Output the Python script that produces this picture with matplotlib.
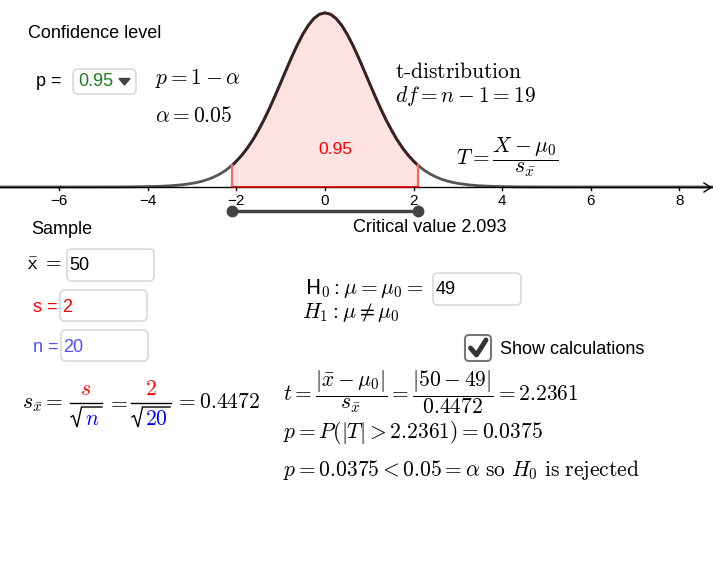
import numpy as np
import matplotlib.pyplot as plt
from matplotlib.patches import FancyBboxPatch, Polygon

plt.rcParams['font.family'] = ['Liberation Sans', 'DejaVu Sans']
plt.rcParams['mathtext.fontset'] = 'cm'

# t-distribution (df = 19)
t_x = [-7.4, -6.0, -5.0, -4.5, -4.0, -3.75, -3.5, -3.25, -3.0, -2.875, -2.75, -2.625, -2.5,
       -2.375, -2.25, -2.093, -2.0, -1.875, -1.75, -1.625, -1.5, -1.375, -1.25, -1.125,
       -1.0, -0.875, -0.75, -0.625, -0.5, -0.375, -0.25, -0.125, 0.0,
       0.125, 0.25, 0.375, 0.5, 0.625, 0.75, 0.875, 1.0, 1.125, 1.25, 1.375, 1.5,
       1.625, 1.75, 1.875, 2.0, 2.093, 2.25, 2.375, 2.5, 2.625, 2.75, 2.875, 3.0,
       3.25, 3.5, 3.75, 4.0, 4.5, 5.0, 6.0, 8.8]
t_y = [0.0, 0.00001, 0.00009, 0.00028, 0.00088, 0.00155, 0.0027, 0.00475, 0.0082, 0.0106, 0.0138, 0.0178, 0.0230,
       0.0293, 0.0371, 0.0495, 0.0585, 0.0722, 0.0884, 0.1072, 0.1287, 0.1526, 0.1788, 0.2067,
       0.2359, 0.2654, 0.2943, 0.3215, 0.3457, 0.3660, 0.3813, 0.3908, 0.3940,
       0.3908, 0.3813, 0.3660, 0.3457, 0.3215, 0.2943, 0.2654, 0.2359, 0.2067, 0.1788, 0.1526, 0.1287,
       0.1072, 0.0884, 0.0722, 0.0585, 0.0495, 0.0371, 0.0293, 0.0230, 0.0178, 0.0138, 0.0106, 0.0082,
       0.00475, 0.0027, 0.00155, 0.00088, 0.00028, 0.00009, 0.00001, 0.0]
ticks = [-6, -4, -2, 0, 2, 4, 6, 8]
crit = 2.093
conf = 0.95

W, H = 713, 581
x_org, y_org = 325, 187     # pixel of (0, 0)
sx, sy = 44.3, 442.0        # pixels per unit

fig = plt.figure(figsize=(W / 100, H / 100), dpi=100)
ax = fig.add_axes([0, 0, 1, 1])
ax.set_xlim(-x_org / sx, (W - x_org) / sx)
ax.set_ylim(-(H - y_org) / sy, y_org / sy)
ax.axis('off')

tx = np.array(t_x)
ty = np.array(t_y)
mid = np.abs(tx) <= crit + 1e-9

ax.fill_between(tx[mid], 0, ty[mid], color='#ffe3e3', lw=0)
ax.plot(tx, ty, color='#555555', lw=2, solid_capstyle='round')
ax.plot(tx[mid], ty[mid], color='#3a2222', lw=2)
for c in (-crit, crit):
    ax.plot([c, c], [0, ty[tx == c][0]], color='#ff6666', lw=1.6)
ax.axhline(0, color='black', lw=1)
ax.plot([-crit, crit], [0, 0], color='#dd0000', lw=1.2)
for t in ticks:
    ax.plot([t, t], [0, -3 / sy], color='black', lw=1)
    ax.text(t, -14 / sy, str(t).replace('-', '\u2212'), ha='center', va='center', fontsize=11)

# critical value segment
ax.plot([-crit, crit], [-24 / sy, -24 / sy], color='#444444', lw=2.5, marker='o', ms=7.5)
ax.text(0.23, 0.084, f'{conf:.2f}', color='#ff0000', fontsize=12.5, ha='center', va='center')

# overlay in pixel coordinates
ov = fig.add_axes([0, 0, 1, 1], facecolor='none')
ov.set_xlim(0, W)
ov.set_ylim(H, 0)
ov.axis('off')
ov.plot([704, 711, 704], [183, 187.5, 192], color='black', lw=1)

def box(x, y, w, h, ec='#d9d9d9'):
    ov.add_patch(FancyBboxPatch((x, y), w, h, boxstyle='round,pad=0,rounding_size=5',
                                fc='white', ec=ec, lw=1.2))

def radical(x0, x1, body, color):
    # hand drawn square root sign, body text in its own colour
    ov.plot([x0, x0 + 2.2, x0 + 6, x0 + 10.5, x1], [417, 415.5, 427, 407, 407],
            color='black', lw=1, solid_joinstyle='miter')
    ov.text((x0 + 10.5 + x1) / 2 + 0.5, 425, r'$%s$' % body, fontsize=mfs,
            ha='center', va='baseline', color=color)

fs = 13
mfs = 15.5
ov.text(28, 33, 'Confidence level', fontsize=fs, va='center')
ov.text(36, 81, 'p =', fontsize=fs, va='center')
box(73, 69, 63, 25)
ov.text(78, 82, '0.95', fontsize=fs, va='center', color='#1f7a1f')
ov.add_patch(Polygon([(119, 78.5), (130, 78.5), (124.5, 85)], color='#444444'))

ov.text(155, 78, r'$p = 1 - \alpha$', fontsize=mfs, va='center')
ov.text(155, 116, r'$\alpha = 0.05$', fontsize=mfs, va='center')
ov.text(395, 72, r'$\text{t-distribution}$', fontsize=mfs, va='center')
ov.text(395, 96, r'$df = n - 1 = 19$', fontsize=mfs, va='center')
ov.text(456, 157, r'$T = \dfrac{X - \mu_0}{s_{\bar{x}}}$', fontsize=mfs, va='center')

ov.text(353, 228, f'Critical value {crit}', fontsize=fs, va='center')
ov.text(31, 229, 'Sample', fontsize=fs, va='center')

ov.text(27, 265, r'$\mathsf{\bar{x}}\ \mathsf{=}$', fontsize=fs + 1.5, va='center')
box(67, 249, 87, 32)
ov.text(69, 266, '50', fontsize=fs, va='center')
ov.text(33, 307, 's =', fontsize=fs, va='center', color='#ff0000')
box(60, 290, 87, 31)
ov.text(62, 307, '2', fontsize=fs, va='center', color='#ff0000')
ov.text(33, 347, 'n =', fontsize=fs, va='center', color='#5050ff')
box(61, 330, 87, 31)
ov.text(63, 347, '20', fontsize=fs, va='center', color='#5050ff')

# s_xbar formula with coloured parts
ov.text(22, 403, r'$s_{\bar{x}} =$', fontsize=mfs, va='center')
ov.plot([70, 102], [403, 403], color='black', lw=1)
ov.text(86, 395, r'$s$', fontsize=mfs, ha='center', va='baseline', color='#ff0000')
radical(71, 102, 'n', '#0000ff')
ov.text(107, 403, r'$=$', fontsize=mfs, va='center')
ov.plot([131, 171], [403, 403], color='black', lw=1)
ov.text(151, 395, r'$2$', fontsize=mfs, ha='center', va='baseline', color='#ff0000')
radical(132, 170, '20', '#0000ff')
ov.text(175, 403, r'$= 0.4472$', fontsize=mfs, va='center')

ov.text(305, 289, r'$\mathsf{H}_0 : \mu = \mu_0 =$', fontsize=mfs, va='center')
box(433, 273, 88, 32)
ov.text(436, 290, '49', fontsize=fs, va='center')
ov.text(302, 313, r'$H_1 : \mu{\neq}\mu_0$', fontsize=mfs, va='center')

ov.add_patch(FancyBboxPatch((465, 335), 26, 26, boxstyle='round,pad=0,rounding_size=4',
                            fc='white', ec='#777777', lw=1.5))
ov.plot([470.5, 476.5, 486], [348, 355, 340], color='#333333', lw=3.5,
        solid_capstyle='round', solid_joinstyle='round')
ov.text(500, 349, 'Show calculations', fontsize=fs, va='center')

ov.text(283, 392, r'$t = \dfrac{|\bar{x} - \mu_0|}{s_{\bar{x}}} = \dfrac{|50 - 49|}{0.4472} = 2.2361$',
        fontsize=mfs, va='center')
ov.text(283, 433, r'$p = P(|T| > 2.2361) = 0.0375$', fontsize=mfs, va='center')
ov.text(283, 470, r'$p = 0.0375 < 0.05 = \alpha\ \mathrm{so}\ H_0\ \mathrm{is\ rejected}$',
        fontsize=mfs, va='center')

fig.savefig('out.png', dpi=100)
